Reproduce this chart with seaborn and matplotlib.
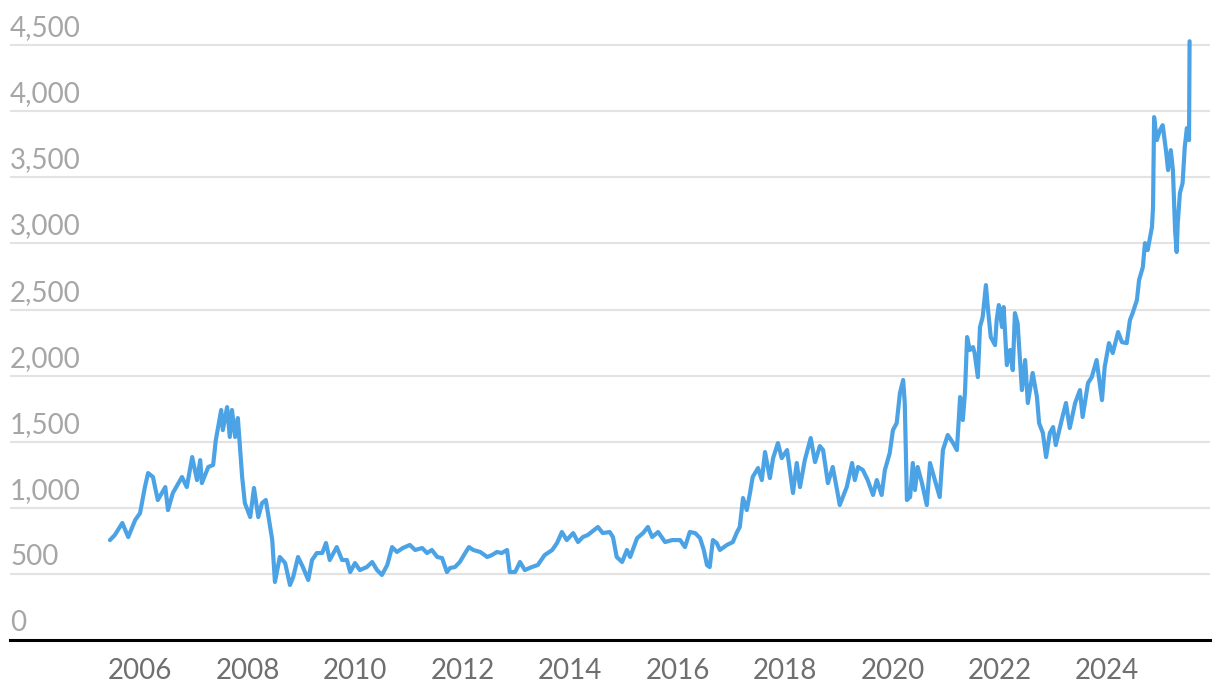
import matplotlib
matplotlib.use("Agg")
import matplotlib.pyplot as plt
import pandas as pd
import seaborn as sns

# decimal year and price
years = [
    2005.44, 2005.53, 2005.67, 2005.78, 2005.91, 2006.00, 2006.09, 2006.15, 2006.24, 2006.33,
    2006.47, 2006.52, 2006.61, 2006.78, 2006.87, 2006.97, 2007.06, 2007.12, 2007.15, 2007.27,
    2007.36, 2007.41, 2007.51, 2007.54, 2007.62, 2007.67, 2007.71, 2007.77, 2007.82, 2007.90,
    2007.95, 2008.05, 2008.12, 2008.20, 2008.27, 2008.34, 2008.38, 2008.46, 2008.51, 2008.60,
    2008.70, 2008.79, 2008.85, 2008.94, 2009.03, 2009.13, 2009.20, 2009.29, 2009.39, 2009.46,
    2009.53, 2009.66, 2009.76, 2009.85, 2009.91, 2010.00, 2010.09, 2010.22, 2010.32, 2010.41,
    2010.50, 2010.60, 2010.69, 2010.78, 2010.89, 2011.02, 2011.12, 2011.25, 2011.34, 2011.43,
    2011.53, 2011.62, 2011.71, 2011.77, 2011.86, 2011.95, 2012.05, 2012.12, 2012.20, 2012.33,
    2012.46, 2012.55, 2012.64, 2012.73, 2012.83, 2012.88, 2012.98, 2013.07, 2013.16, 2013.29,
    2013.40, 2013.53, 2013.67, 2013.76, 2013.85, 2013.94, 2014.06, 2014.15, 2014.24, 2014.33,
    2014.52, 2014.61, 2014.74, 2014.80, 2014.87, 2014.97, 2015.06, 2015.12, 2015.25, 2015.36,
    2015.45, 2015.53, 2015.64, 2015.77, 2015.90, 2016.05, 2016.14, 2016.23, 2016.33, 2016.42,
    2016.49, 2016.55, 2016.60, 2016.66, 2016.73, 2016.79, 2016.92, 2017.03, 2017.11, 2017.16,
    2017.22, 2017.29, 2017.35, 2017.40, 2017.50, 2017.57, 2017.63, 2017.72, 2017.78, 2017.87,
    2017.94, 2018.04, 2018.15, 2018.22, 2018.28, 2018.37, 2018.48, 2018.56, 2018.65, 2018.71,
    2018.80, 2018.89, 2018.97, 2019.02, 2019.15, 2019.25, 2019.30, 2019.36, 2019.45, 2019.54,
    2019.64, 2019.71, 2019.80, 2019.86, 2019.95, 2020.01, 2020.08, 2020.14, 2020.20, 2020.23,
    2020.27, 2020.33, 2020.38, 2020.42, 2020.47, 2020.55, 2020.64, 2020.70, 2020.79, 2020.88,
    2020.94, 2021.03, 2021.13, 2021.20, 2021.26, 2021.31, 2021.35, 2021.39, 2021.44, 2021.50,
    2021.53, 2021.59, 2021.63, 2021.68, 2021.74, 2021.78, 2021.83, 2021.91, 2021.94, 2021.98,
    2022.04, 2022.07, 2022.13, 2022.19, 2022.24, 2022.28, 2022.33, 2022.41, 2022.47, 2022.52,
    2022.61, 2022.69, 2022.73, 2022.80, 2022.86, 2022.93, 2022.99, 2023.04, 2023.15, 2023.23,
    2023.30, 2023.40, 2023.49, 2023.54, 2023.64, 2023.71, 2023.80, 2023.90, 2023.95, 2024.03,
    2024.10, 2024.20, 2024.27, 2024.36, 2024.42, 2024.47, 2024.55, 2024.59, 2024.66, 2024.70,
    2024.75, 2024.83, 2024.85, 2024.87, 2024.92, 2024.98, 2025.03, 2025.09, 2025.13, 2025.18,
    2025.22, 2025.26, 2025.29, 2025.31, 2025.35, 2025.40, 2025.44, 2025.48, 2025.52, 2025.53,
]

prices = [
    756, 794, 885, 779, 908, 960, 1157, 1263, 1233, 1059,
    1157, 983, 1112, 1233, 1157, 1384, 1210, 1361, 1187, 1309,
    1324, 1513, 1740, 1588, 1762, 1536, 1740, 1536, 1679, 1233,
    1036, 930, 1150, 930, 1036, 1059, 960, 756, 439, 628,
    582, 416, 477, 628, 552, 454, 605, 658, 658, 734,
    605, 703, 605, 605, 514, 582, 529, 552, 590, 529,
    492, 567, 703, 666, 696, 719, 681, 696, 658, 681,
    628, 620, 514, 545, 552, 590, 658, 703, 681, 666,
    628, 643, 666, 658, 681, 514, 514, 590, 529, 552,
    567, 643, 681, 734, 817, 756, 809, 741, 779, 794,
    855, 809, 817, 779, 628, 590, 681, 628, 771, 809,
    855, 779, 817, 741, 756, 756, 703, 817, 809, 771,
    681, 567, 552, 756, 734, 681, 719, 741, 817, 855,
    1074, 983, 1112, 1233, 1301, 1210, 1422, 1225, 1376, 1490,
    1376, 1437, 1112, 1339, 1157, 1361, 1528, 1346, 1467, 1437,
    1187, 1309, 1135, 1021, 1157, 1339, 1210, 1309, 1286, 1210,
    1097, 1210, 1097, 1286, 1414, 1588, 1641, 1868, 1967, 1793,
    1059, 1082, 1339, 1135, 1309, 1187, 1021, 1339, 1210, 1082,
    1437, 1551, 1490, 1437, 1838, 1664, 1868, 2292, 2194, 2216,
    2171, 1989, 2368, 2443, 2685, 2496, 2292, 2231, 2420, 2534,
    2368, 2519, 2080, 2194, 2042, 2473, 2398, 1891, 2118, 1793,
    2020, 1838, 1641, 1566, 1384, 1566, 1611, 1475, 1664, 1793,
    1604, 1793, 1891, 1687, 1944, 1989, 2118, 1815, 2065, 2246,
    2171, 2330, 2254, 2246, 2420, 2473, 2572, 2723, 2821, 3003,
    2950, 3124, 3275, 3956, 3782, 3858, 3895, 3706, 3555, 3706,
    3555, 3101, 2935, 3154, 3381, 3457, 3729, 3873, 3782, 4530,
]

y_ticks = [0, 500, 1000, 1500, 2000, 2500, 3000, 3500, 4000, 4500]
x_ticks = [2006, 2008, 2010, 2012, 2014, 2016, 2018, 2020, 2022, 2024]

df = pd.DataFrame({"year": years, "price": prices})

sns.set_style("white")
plt.rcParams["font.family"] = ["Lato", "DejaVu Sans"]

fig = plt.figure(figsize=(12.2, 6.98), dpi=100)
ax = fig.add_axes([10 / 1220, 58 / 698, 1200 / 1220, 608 / 698])

sns.lineplot(
    data=df,
    x="year",
    y="price",
    color="#4ba3e6",
    linewidth=3.0,
    ax=ax,
    zorder=3
)
for line in ax.lines:
    line.set_solid_joinstyle("round")
    line.set_solid_capstyle("round")

ax.set_xlim(2003.58, 2025.91)
ax.set_ylim(0, 4600)

# gridlines with labels sitting above them
for v in y_ticks:
    if v > 0:
        ax.axhline(v, color="#e3e3e3", linewidth=1.5, zorder=1)
    ax.annotate(
        f"{v:,}",
        xy=(0, v),
        xycoords=ax.get_yaxis_transform(),
        xytext=(0, 9),
        textcoords="offset pixels",
        ha="left",
        va="baseline",
        fontsize=20,
        color="#a6a6a6"
    )

ax.set_yticks([])
ax.set_xticks(x_ticks)
ax.set_xticklabels([str(x) for x in x_ticks])
ax.tick_params(axis="x", length=0, pad=13, labelsize=20, labelcolor="#6f6f6f")

ax.set_xlabel("")
ax.set_ylabel("")

for side in ["top", "right", "left"]:
    ax.spines[side].set_visible(False)
ax.spines["bottom"].set_color("black")
ax.spines["bottom"].set_linewidth(2.2)
ax.spines["bottom"].set_zorder(4)

fig.savefig("out.png", dpi=100)
plt.close(fig)
